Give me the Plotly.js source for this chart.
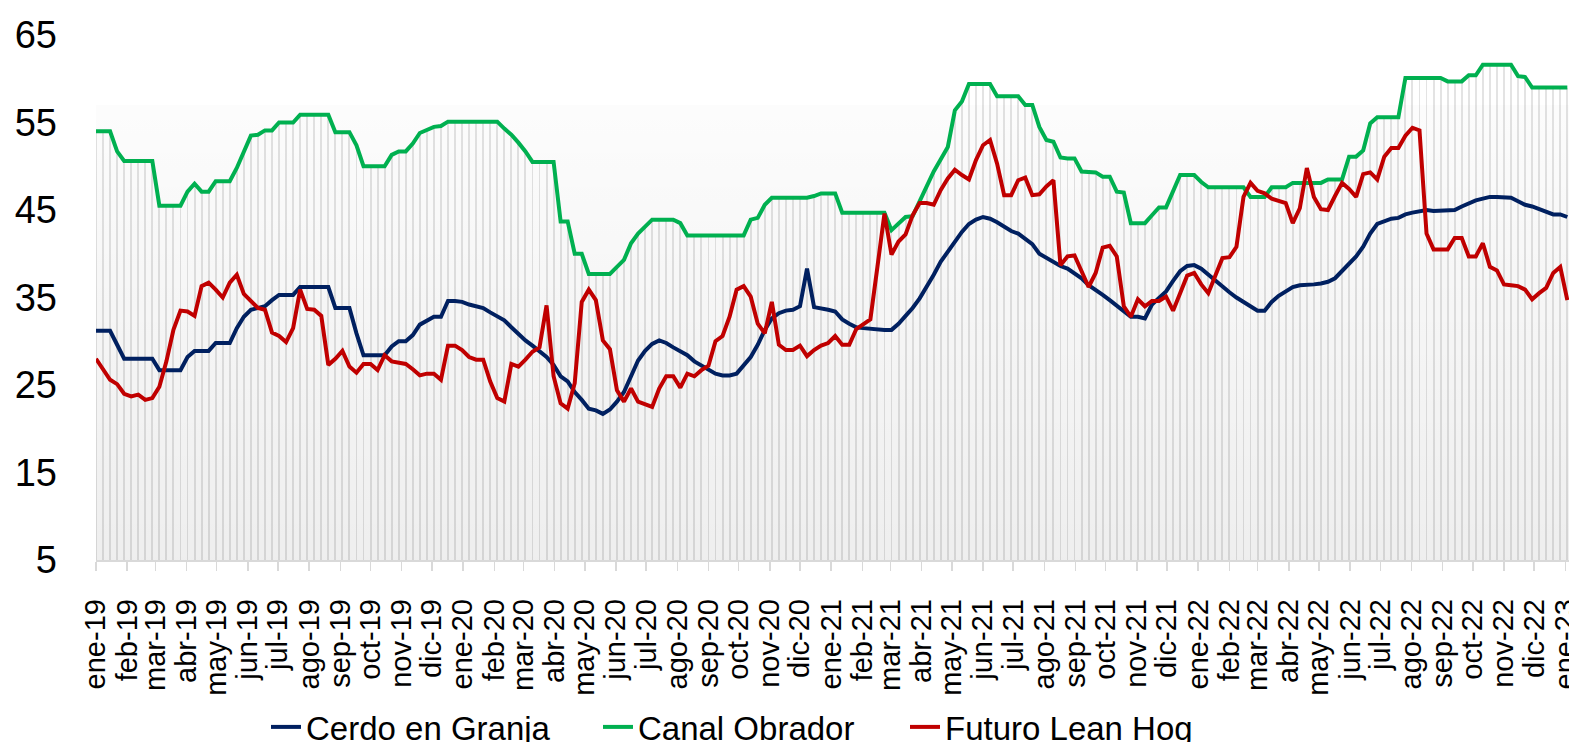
<!DOCTYPE html>
<html>
<head>
<meta charset="utf-8">
<script src="https://cdn.plot.ly/plotly-3.0.1.min.js"></script>
<style>html,body{margin:0;padding:0;background:#fff}#chart{width:1569px;height:742px}</style>
</head>
<body>
<div id="chart"></div>
<script>
// Weekly series, first week 2019-01-01
const startDate = '2019-01-01';
const seriesNames = ['Cerdo en Granja', 'Canal Obrador', 'Futuro Lean Hog'];

const cerdoGranja = [
31.2,31.2,31.2,29.6,28.0,28.0,28.0,28.0,28.0,26.7,26.7,26.7,26.7,28.2,28.9,28.9,28.9,29.8,29.8,29.8,
31.5,32.8,33.6,33.8,34.0,34.7,35.3,35.3,35.3,36.2,36.2,36.2,36.2,36.2,33.8,33.8,33.8,30.9,28.4,28.4,
28.4,28.4,29.4,30.0,30.0,30.7,31.9,32.4,32.8,32.8,34.6,34.6,34.5,34.2,34.0,33.8,33.3,32.8,32.4,31.6,
30.8,30.1,29.5,28.9,28.2,27.3,26.0,25.4,24.2,23.3,22.3,22.1,21.7,22.2,23.1,24.2,26.0,27.8,28.9,29.7,
30.1,29.8,29.3,28.8,28.4,27.7,27.2,26.7,26.3,26.1,26.1,26.3,27.2,28.2,29.6,31.3,32.6,33.2,33.5,33.6,
34.0,38.3,33.9,33.8,33.6,33.4,32.5,32.0,31.6,31.5,31.4,31.3,31.3,31.3,32.0,32.9,33.8,34.9,36.2,37.6,
39.1,40.2,41.4,42.5,43.4,43.9,44.2,44.0,43.6,43.1,42.6,42.3,41.7,41.1,40.0,39.5,39.1,38.6,38.3,37.8,
37.2,36.4,35.9,35.3,34.7,34.1,33.5,32.8,32.8,32.6,34.2,34.9,35.7,36.9,38.0,38.6,38.7,38.3,37.6,36.9,
36.2,35.6,35.0,34.5,34.0,33.5,33.5,34.5,35.2,35.7,36.2,36.4,36.4,36.5,36.6,36.8,37.2,38.0,38.8,39.7,
40.8,42.3,43.4,43.7,44.0,44.1,44.5,44.7,44.9,45.0,44.9,44.9,44.9,45.0,45.4,45.8,46.1,46.3,46.5,46.5,
46.5,46.4,46.0,45.6,45.4,45.1,44.8,44.5,44.5,44.2
];

const canalObrador = [
54.0,54.0,54.0,51.7,50.6,50.6,50.6,50.6,50.6,45.5,45.5,45.5,45.5,47.1,48.0,47.1,47.1,48.3,48.3,48.3,
49.8,51.7,53.5,53.6,54.1,54.1,55.0,55.0,55.0,55.9,55.9,55.9,55.9,55.9,53.9,53.9,53.9,52.4,50.0,50.0,
50.0,50.0,51.3,51.7,51.7,52.6,53.8,54.2,54.5,54.6,55.1,55.1,55.1,55.1,55.1,55.1,55.1,55.1,54.3,53.6,
52.7,51.7,50.5,50.5,50.5,50.5,43.7,43.7,40.0,40.0,37.7,37.7,37.7,37.7,38.5,39.3,41.2,42.3,43.1,43.9,
43.9,43.9,43.9,43.5,42.1,42.1,42.1,42.1,42.1,42.1,42.1,42.1,42.1,43.9,44.1,45.6,46.4,46.4,46.4,46.4,
46.4,46.4,46.6,46.9,46.9,46.9,44.7,44.7,44.7,44.7,44.7,44.7,44.7,42.7,43.5,44.2,44.3,46.0,47.9,49.4,
50.8,52.2,56.4,57.4,59.4,59.4,59.4,59.4,58.0,58.0,58.0,58.0,57.0,57.0,54.5,53.0,52.8,51.0,50.9,50.9,
49.4,49.3,49.3,48.8,48.8,47.1,47.0,43.5,43.5,43.5,44.4,45.3,45.3,47.1,49.0,49.0,49.0,48.2,47.6,47.6,
47.6,47.6,47.6,47.6,46.5,46.5,46.5,47.6,47.6,47.6,48.1,48.1,48.1,48.1,48.1,48.5,48.5,48.5,51.1,51.1,
51.8,54.9,55.6,55.6,55.6,55.6,60.1,60.1,60.1,60.1,60.1,60.1,59.7,59.7,59.7,60.4,60.4,61.6,61.6,61.6,
61.6,61.6,60.3,60.2,59.0,59.0,59.0,59.0,59.0,59.0
];

const futuroLeanHog = [
28.0,26.7,25.6,25.1,24.0,23.7,23.9,23.3,23.5,24.8,27.7,31.3,33.5,33.4,32.9,36.3,36.7,35.9,35.0,36.7,
37.6,35.4,34.6,33.8,33.6,31.0,30.6,29.9,31.5,35.9,33.7,33.6,32.9,27.3,28.0,28.9,27.1,26.4,27.4,27.4,
26.7,28.4,27.7,27.5,27.4,26.8,26.1,26.3,26.3,25.6,29.5,29.5,29.0,28.2,27.9,27.9,25.4,23.5,23.1,27.4,
27.1,27.9,28.8,29.3,34.1,26.0,22.9,22.3,25.2,34.5,35.9,34.7,30.1,29.1,24.4,23.1,24.6,23.1,22.8,22.5,
24.6,26.0,26.0,24.7,26.3,26.0,26.7,27.2,30.0,30.6,32.8,35.9,36.3,35.1,32.0,30.9,34.5,29.6,29.0,29.0,
29.5,28.3,29.0,29.5,29.8,30.6,29.6,29.6,31.4,31.9,32.5,38.5,44.6,39.9,41.4,42.2,44.4,45.8,45.8,45.6,
47.3,48.6,49.6,49.0,48.5,50.7,52.4,53.0,50.3,46.7,46.7,48.4,48.7,46.7,46.8,47.7,48.4,38.7,39.7,39.8,
38.1,36.2,37.8,40.7,40.9,39.7,34.0,32.8,34.8,34.0,34.6,34.6,35.1,33.5,35.5,37.5,37.8,36.5,35.5,37.6,
39.5,39.6,40.8,46.5,48.1,47.2,46.9,46.3,46.1,45.8,43.5,45.2,49.8,46.5,45.1,45.0,46.6,48.1,47.4,46.5,
49.1,49.3,48.5,51.1,52.1,52.1,53.5,54.4,54.1,42.3,40.5,40.5,40.5,41.8,41.8,39.7,39.7,41.2,38.5,38.1,
36.5,36.4,36.3,35.9,34.8,35.5,36.1,37.8,38.5,34.7
];

const tickLabels = [
'ene-19','feb-19','mar-19','abr-19','may-19','jun-19','jul-19','ago-19','sep-19','oct-19','nov-19','dic-19',
'ene-20','feb-20','mar-20','abr-20','may-20','jun-20','jul-20','ago-20','sep-20','oct-20','nov-20','dic-20',
'ene-21','feb-21','mar-21','abr-21','may-21','jun-21','jul-21','ago-21','sep-21','oct-21','nov-21','dic-21',
'ene-22','feb-22','mar-22','abr-22','may-22','jun-22','jul-22','ago-22','sep-22','oct-22','nov-22','dic-22',
'ene-23'
];

// weekly dates (category positions)
const DAY = 86400000;
const t0 = Date.parse(startDate + 'T00:00:00Z');
const iso = ms => new Date(ms).toISOString().slice(0, 10);
const weeks = cerdoGranja.map((_, i) => iso(t0 + i * 7 * DAY));
// month-start tick positions
const tickVals = tickLabels.map((_, i) => iso(Date.UTC(2019, i, 1)));

const xStart = '2019-01-01';
const xEnd = '2023-01-04 16:00';

const font = 'Liberation Sans, Arial, sans-serif';

const traces = [
  { // thin weekly columns under Canal Obrador
    type: 'bar', x: weeks, y: canalObrador, width: 1.9 * DAY,
    marker: {color: '#e3e3e3', line: {width: 0}},
    hoverinfo: 'skip', showlegend: false
  },
  { // plot-area gradient shading (translucent so columns show through)
    type: 'scatter', mode: 'lines', x: [xStart, xEnd], y: [57, 57],
    fill: 'tozeroy', line: {width: 0, color: 'rgba(0,0,0,0)'},
    fillgradient: {type: 'vertical', start: 5, stop: 57,
      colorscale: [[0, 'rgba(0,0,0,0.065)'], [1, 'rgba(0,0,0,0.012)']]},
    hoverinfo: 'skip', showlegend: false
  },
  {
    type: 'scatter', mode: 'lines', name: seriesNames[0], x: weeks, y: cerdoGranja,
    line: {color: '#002060', width: 4}, legendwidth: 287
  },
  {
    type: 'scatter', mode: 'lines', name: seriesNames[1], x: weeks, y: canalObrador,
    line: {color: '#00B050', width: 4}, legendwidth: 262
  },
  {
    type: 'scatter', mode: 'lines', name: seriesNames[2], x: weeks, y: futuroLeanHog,
    line: {color: '#C00000', width: 4}
  }
];

const layout = {
  width: 1569, height: 742,
  margin: {l: 96, r: 0, t: 35, b: 182, pad: 0, autoexpand: false},
  paper_bgcolor: '#ffffff', plot_bgcolor: '#ffffff',
  font: {family: font, color: '#000000'},
  bargap: 0,
  showlegend: true,
  legend: {
    orientation: 'h', x: 0.1154, xanchor: 'left', y: -0.318, yanchor: 'middle',
    font: {family: font, size: 33, color: '#000000'},
    bgcolor: 'rgba(0,0,0,0)', traceorder: 'normal', entrywidthmode: 'pixels'
  },
  xaxis: {
    type: 'date', range: [xStart, xEnd],
    tickmode: 'array', tickvals: tickVals, ticktext: tickLabels,
    tickangle: -90, tickfont: {family: font, size: 29, color: '#000000'},
    ticks: 'outside', ticklen: 9, tickwidth: 1.5, tickcolor: '#d9d9d9',
    ticklabelstandoff: 17, ticklabeloverflow: 'allow',
    showline: true, linecolor: '#d9d9d9', linewidth: 1.5,
    showgrid: false, zeroline: false, automargin: false, fixedrange: true
  },
  yaxis: {
    range: [5, 65], tickmode: 'linear', tick0: 5, dtick: 10,
    tickfont: {family: font, size: 38, color: '#000000'},
    ticks: '', ticklabelstandoff: 38,
    showline: false, showgrid: false, zeroline: false, automargin: false, fixedrange: true
  }
};

Plotly.newPlot('chart', traces, layout, {displayModeBar: false, staticPlot: true});
</script>
</body>
</html>
